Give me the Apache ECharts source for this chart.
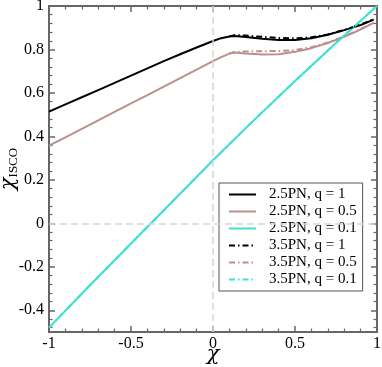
<!DOCTYPE html>
<html><head><meta charset="utf-8">
<script src="https://cdn.jsdelivr.net/npm/echarts@6/dist/echarts.min.js"></script>
<style>html,body{margin:0;padding:0;background:#fff}#c{width:382px;height:367px}</style>
</head><body><div id="c"></div>
<script>
// spin values
const chi = [-1,-0.9,-0.8,-0.7,-0.6,-0.5,-0.4,-0.3,-0.2,-0.1,0,0.05,0.1,0.13,0.2,0.3,0.4,0.5,0.6,0.7,0.8,0.9,0.98];
const black25 = [0.514,0.547,0.580,0.613,0.646,0.680,0.713,0.746,0.778,0.809,0.839,0.852,0.860,0.862,0.857,0.849,0.844,0.844,0.852,0.868,0.889,0.912,0.937];
const rose25  = [0.358,0.396,0.435,0.474,0.513,0.552,0.590,0.629,0.668,0.707,0.746,0.765,0.781,0.786,0.782,0.777,0.778,0.789,0.806,0.830,0.858,0.892,0.922];
const chiC = [-1,-0.75,-0.5,-0.25,0,0.25,0.5,0.75,1];
const cyan25 = [-0.48,-0.285,-0.093,0.098,0.29,0.475,0.655,0.83,1.0];
const cyan35 = [-0.48,-0.285,-0.093,0.098,0.29,0.475,0.655,0.83,1.0];
const chi35 = [0.1,0.13,0.2,0.3,0.4,0.5,0.6,0.7,0.8,0.9,0.98];
const black35 = [0.860,0.866,0.864,0.858,0.853,0.851,0.856,0.869,0.890,0.914,0.940];
const rose35  = [0.781,0.788,0.791,0.792,0.793,0.797,0.810,0.832,0.860,0.893,0.924];
const names = ['2.5PN, q = 1','2.5PN, q = 0.5','2.5PN, q = 0.1','3.5PN, q = 1','3.5PN, q = 0.5','3.5PN, q = 0.1'];
const xTickLabels = ['-1','-0.5','0','0.5','1'];
const yTickLabels = ['-0.4','-0.2','0','0.2','0.4','0.6','0.8','1'];

// tick scaffolds (category axes used only for ticks/labels)
const xCats = [];
for (let h = -10; h <= 10; h += 1) xCats.push(String(h/10));
const yCats = [];
for (let h = -50; h <= 100; h += 2) yCats.push(String(h/100));
const hund = v => Math.round(parseFloat(v)*100);
const isXMajor = (i, v) => xTickLabels.indexOf(String(v)) >= 0;
const isXMinor = (i, v) => !isXMajor(i, v);
const isYMajor = (i, v) => yTickLabels.indexOf(String(v)) >= 0;
const isYMinor = (i, v) => { const h = hund(v); return h % 4 === 0 && !isYMajor(i, v); };

const pairs = (xs, ys) => xs.map((x,i)=>[x, ys[i]]);
const FONT = 'Liberation Serif';
const GFONT = 'DejaVu Serif';
const AX = '#666';
const DD = [6,3,1.5,3];

function xCat(pos, labels, major){
  return {type:'category', data:xCats, boundaryGap:false, position:pos,
    axisLine:{show:true, onZero:false, lineStyle:{color:AX, width:2}},
    axisTick:{show:true, inside:true, length: major?6:3.5, interval: major?isXMajor:isXMinor,
      lineStyle:{color:AX, width: major?1.5:1.2}},
    axisLabel:{show:labels, interval:isXMajor, color:'#000', fontFamily:FONT, fontSize:16, margin:4,
      formatter: v => v},
    splitLine:{show:false},
    name: labels ? 'χ' : '', nameLocation:'middle', nameGap:12, nameMoveOverlap:false,
    nameTextStyle:{fontFamily:GFONT, fontStyle:'italic', fontSize:21, color:'#000'}};
}
function yCat(pos, labels, major){
  const o = {type:'category', data:yCats, boundaryGap:false, position:pos,
    axisLine:{show:true, onZero:false, lineStyle:{color:AX, width:2}},
    axisTick:{show:true, inside:true, length: major?6:3.5, interval: major?isYMajor:isYMinor,
      lineStyle:{color:AX, width: major?1.5:1.2}},
    axisLabel:{show:labels, interval:isYMajor, color:'#000', fontFamily:FONT, fontSize:16, margin:5,
      formatter: v => v},
    splitLine:{show:false}};
  if (labels) {
    o.name = '{x|χ}{s|ISCO}';
    o.nameLocation = 'middle'; o.nameGap = 29; o.nameRotate = 90; o.nameMoveOverlap = false;
    o.nameTextStyle = {fontFamily:FONT, color:'#000', rich:{
      x:{fontFamily:GFONT, fontStyle:'italic', fontSize:21, lineHeight:22, verticalAlign:'top', color:'#000'},
      s:{fontFamily:FONT, fontSize:13, lineHeight:11, verticalAlign:'bottom', color:'#000'}}};
  }
  return o;
}
const xVal = {type:'value', min:-1, max:1, position:'bottom',
  axisLine:{show:false}, axisTick:{show:false}, axisLabel:{show:false}, splitLine:{show:false}};
const yVal = {type:'value', min:-0.5, max:1, position:'left',
  axisLine:{show:false}, axisTick:{show:false}, axisLabel:{show:false}, splitLine:{show:false}};

const chart = echarts.init(document.getElementById('c'));
chart.setOption({
  animation:false,
  backgroundColor:'#fff',
  grid:{left:49, right:5, top:6, bottom:35, outerBoundsMode:'none'},
  xAxis:[xVal, xCat('bottom', true, true), xCat('bottom', false, false), xCat('top', false, true), xCat('top', false, false)],
  yAxis:[yVal, yCat('left', true, true), yCat('left', false, false), yCat('right', false, true), yCat('right', false, false)],
  legend:{data:names, orient:'vertical', left:219, top:183,
    backgroundColor:'#fff', borderColor:'#555', borderWidth:1, borderRadius:0,
    padding:[4,6,4,9], itemWidth:27, itemHeight:14, itemGap:2,
    itemStyle:{color:'rgba(0,0,0,0)', borderColor:'rgba(0,0,0,0)', borderWidth:0, opacity:0},
    textStyle:{fontFamily:FONT, fontSize:15, lineHeight:15, color:'#000', padding:[0,0,0,8]}},
  series:[
    {type:'line', name:'zero', data:[], silent:true, xAxisIndex:0, yAxisIndex:0,
      markLine:{silent:true, symbol:'none', label:{show:false},
        lineStyle:{color:'#d6d6d6', type:[7,4], width:1.5},
        data:[{xAxis:0},{yAxis:0}]}},
    {type:'line', name:names[0], xAxisIndex:0, yAxisIndex:0, data:pairs(chi, black25), showSymbol:false, symbol:'none', lineStyle:{color:'#000', width:2}, itemStyle:{color:'#000'}},
    {type:'line', name:names[1], xAxisIndex:0, yAxisIndex:0, data:pairs(chi, rose25), showSymbol:false, symbol:'none', lineStyle:{color:'#bc8f8f', width:2}, itemStyle:{color:'#bc8f8f'}},
    {type:'line', name:names[2], xAxisIndex:0, yAxisIndex:0, data:pairs(chiC, cyan25), showSymbol:false, symbol:'none', lineStyle:{color:'#40e0d0', width:2}, itemStyle:{color:'#40e0d0'}},
    {type:'line', name:names[3], xAxisIndex:0, yAxisIndex:0, data:pairs(chi35, black35), showSymbol:false, symbol:'none', lineStyle:{color:'#000', width:2, type:DD}, itemStyle:{color:'#000'}},
    {type:'line', name:names[4], xAxisIndex:0, yAxisIndex:0, data:pairs(chi35, rose35), showSymbol:false, symbol:'none', lineStyle:{color:'#bc8f8f', width:2, type:DD}, itemStyle:{color:'#bc8f8f'}},
    {type:'line', name:names[5], xAxisIndex:0, yAxisIndex:0, data:pairs(chiC, cyan35), showSymbol:false, symbol:'none', lineStyle:{color:'#40e0d0', width:2, type:DD}, itemStyle:{color:'#40e0d0'}}
  ]
});
</script>
</body></html>
